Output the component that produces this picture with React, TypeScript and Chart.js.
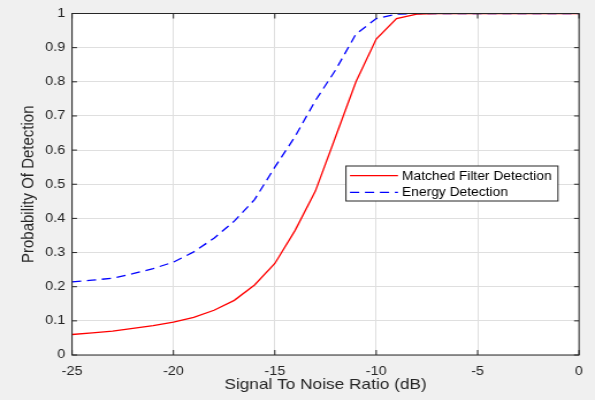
import React, { useEffect, useRef } from "react";
import { Chart, registerables } from "chart.js";

Chart.register(...registerables);

const snr = [-25, -24, -23, -22, -21, -20, -19, -18, -17, -16, -15, -14, -13, -12, -11, -10, -9, -8, -7, -6, -5, -4, -3, -2, -1, 0];
const matchedFilter = [0.06, 0.065, 0.07, 0.078, 0.086, 0.096, 0.11, 0.131, 0.16, 0.205, 0.268, 0.365, 0.48, 0.64, 0.8, 0.925, 0.985, 0.998, 1, 1, 1, 1, 1, 1, 1, 1];
const energy = [0.214, 0.219, 0.225, 0.238, 0.253, 0.272, 0.302, 0.342, 0.392, 0.455, 0.55, 0.64, 0.745, 0.835, 0.94, 0.985, 0.998, 1, 1, 1, 1, 1, 1, 1, 1, 1];
const xTicks = [-25, -20, -15, -10, -5, 0];
const yTicks = [0, 0.1, 0.2, 0.3, 0.4, 0.5, 0.6, 0.7, 0.8, 0.9, 1];
const seriesLabels = ["Matched Filter Detection", "Energy Detection"];
const xTitle = "Signal To Noise Ratio (dB)";
const yTitle = "Probability Of Detection";

const FONT = '"Liberation Sans", Arial, sans-serif';
const AXIS = "#262626";
const W = 517;
const H = 400;

const matlabPlugin = {
  id: "matlab",
  beforeDraw(chart: any) {
    const { ctx, chartArea: a } = chart;
    ctx.save();
    ctx.fillStyle = "#f0f0f0";
    ctx.fillRect(0, 0, chart.width, chart.height);
    ctx.fillStyle = "#ffffff";
    ctx.fillRect(a.left, a.top, a.right - a.left, a.bottom - a.top);
    ctx.restore();
  },
  afterDraw(chart: any) {
    const { ctx, chartArea: a, scales } = chart;
    ctx.save();
    ctx.strokeStyle = AXIS;
    ctx.lineWidth = 1;
    ctx.strokeRect(a.left, a.top, a.right - a.left, a.bottom - a.top);
    ctx.beginPath();
    const tlx = 5;
    const tly = 4.3;
    xTicks.forEach((v) => {
      const px = scales.x.getPixelForValue(v);
      ctx.moveTo(px, a.bottom);
      ctx.lineTo(px, a.bottom - tlx);
      ctx.moveTo(px, a.top);
      ctx.lineTo(px, a.top + tlx);
    });
    yTicks.forEach((v) => {
      const py = scales.y.getPixelForValue(v);
      ctx.moveTo(a.left, py);
      ctx.lineTo(a.left + tly, py);
      ctx.moveTo(a.right, py);
      ctx.lineTo(a.right - tly, py);
    });
    ctx.stroke();

    // legend
    const bx = 300.6, by = 166, bw = 184.2, bh = 35;
    ctx.fillStyle = "#ffffff";
    ctx.fillRect(bx, by, bw, bh);
    ctx.strokeStyle = AXIS;
    ctx.lineWidth = 1;
    ctx.strokeRect(bx, by, bw, bh);
    const rows = [175.7, 192.3];
    chart.data.datasets.forEach((ds: any, i: number) => {
      const y = rows[i];
      ctx.beginPath();
      ctx.strokeStyle = ds.borderColor;
      ctx.lineWidth = ds.borderWidth;
      ctx.setLineDash(ds.borderDash || []);
      ctx.moveTo(304.1, y);
      ctx.lineTo(345.8, y);
      ctx.stroke();
      ctx.setLineDash([]);
      ctx.fillStyle = "#000000";
      ctx.font = `12px ${FONT}`;
      ctx.textBaseline = "middle";
      ctx.textAlign = "left";
      ctx.fillText(ds.label, 349.3, y + 0.5);
    });
    ctx.restore();
  },
};

export default function App() {
  const ref = useRef<HTMLCanvasElement>(null);
  useEffect(() => {
    document.body.style.margin = "0";
    const canvas = ref.current!;
    const chart = new Chart(canvas, {
      type: "line",
      data: {
        datasets: [
          {
            label: seriesLabels[0],
            data: snr.map((x, i) => ({ x, y: matchedFilter[i] })),
            borderColor: "#ff0000",
            borderWidth: 1.3,
            pointRadius: 0,
            tension: 0,
            fill: false,
          },
          {
            label: seriesLabels[1],
            data: snr.map((x, i) => ({ x, y: energy[i] })),
            borderColor: "#0000ff",
            borderWidth: 1.3,
            borderDash: [8, 5],
            pointRadius: 0,
            tension: 0,
            fill: false,
          },
        ],
      },
      options: {
        responsive: false,
        animation: false,
        devicePixelRatio: 1,
        layout: { padding: { top: 12, right: 13.9, bottom: 0, left: 0 } },
        plugins: { legend: { display: false }, tooltip: { enabled: false } },
        scales: {
          x: {
            type: "linear",
            min: -25,
            max: 0,
            afterBuildTicks: (s: any) => {
              s.ticks = xTicks.map((v) => ({ value: v }));
            },
            afterFit: (s: any) => {
              s.height = 45;
            },
            ticks: { font: { family: FONT, size: 12.5 }, color: AXIS, padding: 9, maxRotation: 0 },
            grid: { color: "#dfdfdf", drawTicks: false, lineWidth: 1 },
            border: { display: false },
            title: {
              display: true,
              text: xTitle,
              color: AXIS,
              font: { family: FONT, size: 15 },
              padding: { top: 0, bottom: 6 },
            },
          },
          y: {
            type: "linear",
            min: 0,
            max: 1,
            afterBuildTicks: (s: any) => {
              s.ticks = yTicks.map((v) => ({ value: v }));
            },
            afterFit: (s: any) => {
              s.width = 62.6;
            },
            ticks: {
              font: { family: FONT, size: 12.5 },
              color: AXIS,
              padding: 6,
              callback: (v: any) => String(Math.round(Number(v) * 10) / 10),
            },
            grid: { color: "#dfdfdf", drawTicks: false, lineWidth: 1 },
            border: { display: false },
            title: {
              display: true,
              text: yTitle,
              color: AXIS,
              font: { family: FONT, size: 15 },
              padding: { top: 15.6, bottom: 0 },
            },
          },
        },
      },
      plugins: [matlabPlugin],
    } as any);
    return () => chart.destroy();
  }, []);
  return (
    <div style={{ position: "absolute", left: 0, top: 0, width: 595, height: 400 }}>
      <canvas
        ref={ref}
        width={W}
        height={H}
        style={{ width: "595px", height: "400px", display: "block" }}
      />
    </div>
  );
}
